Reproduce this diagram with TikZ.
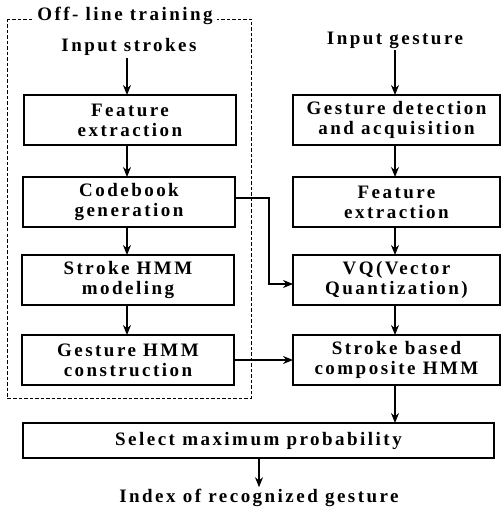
\documentclass[tikz,border=0pt]{standalone}
\usepackage{fontspec}
\newfontfamily\lbl{Liberation Serif}[LetterSpace=13]
\usetikzlibrary{arrows.meta}
\begin{document}
\begin{tikzpicture}[x=1pt,y=-1pt,
  txt/.style={font=\lbl\bfseries\fontsize{19}{20}\selectfont, align=center, inner sep=0pt, outer sep=2pt},
  boxed/.style={txt, draw, line width=1.4pt, inner sep=0pt, outer sep=0pt},
  lbox/.style={boxed, minimum width=212pt, minimum height=50pt},
  rbox/.style={boxed, minimum width=207pt, minimum height=50pt},
  dbox/.style={line width=0.9pt, dash pattern=on 3.5pt off 2pt},
  arr/.style={line width=1.2pt, -{Stealth[length=10pt,width=8pt]}}]
\useasboundingbox (0,0) rectangle (503,510);
% off-line training frame
\draw[dbox] (7,19) rectangle (251,398);
\node[txt, fill=white, inner xsep=4pt] (title) at (125,16) {Off- line training};
% left column
\node[txt] (is) at (129,47) {Input strokes};
\node[lbox] (fe1) at (130,120) {Feature\\extraction};
\node[lbox] (cb) at (129,202) {Codebook\\generation};
\node[lbox] (sh) at (128,280) {Stroke HMM\\modeling};
\node[lbox] (gh) at (128,360) {Gesture HMM\\construction};
% right column
\node[txt] (ig) at (395,40) {Input gesture};
\node[rbox] (gd) at (396.5,120) {Gesture detection\\and acquisition};
\node[rbox] (fe2) at (396.5,202) {Feature\\extraction};
\node[rbox] (vq) at (396.5,280) {VQ(Vector\\Quantization)};
\node[rbox] (sb) at (396.5,360) {Stroke based\\composite HMM};
% bottom
\node[boxed, minimum width=471pt, minimum height=35pt] (sel) at (258.5,440.5) {Select maximum probability};
\node[txt] (idx) at (259,498) {Index of recognized gesture};
% connectors
\draw[arr] (is.south -| 127,0) -- (fe1.north -| 127,0);
\draw[arr] (fe1.south -| 127,0) -- (cb.north -| 127,0);
\draw[arr] (cb.south -| 127,0) -- (sh.north -| 127,0);
\draw[arr] (sh.south -| 127,0) -- (gh.north -| 127,0);
\draw[arr] (ig.south -| 395,0) -- (gd.north -| 395,0);
\draw[arr] (gd.south -| 395,0) -- (fe2.north -| 395,0);
\draw[arr] (fe2.south -| 395,0) -- (vq.north -| 395,0);
\draw[arr] (vq.south -| 395,0) -- (sb.north -| 395,0);
\draw[arr] (sb.south -| 395,0) -- (sel.north -| 395,0);
\draw[arr] (sel.south -| idx.north) -- (idx.north);
\draw[arr] ([yshift=4pt]cb.east) -- ++(34,0) |- ([yshift=-4pt]vq.west);
\draw[arr] (gh.east) -- (sb.west);
\end{tikzpicture}
\end{document}
